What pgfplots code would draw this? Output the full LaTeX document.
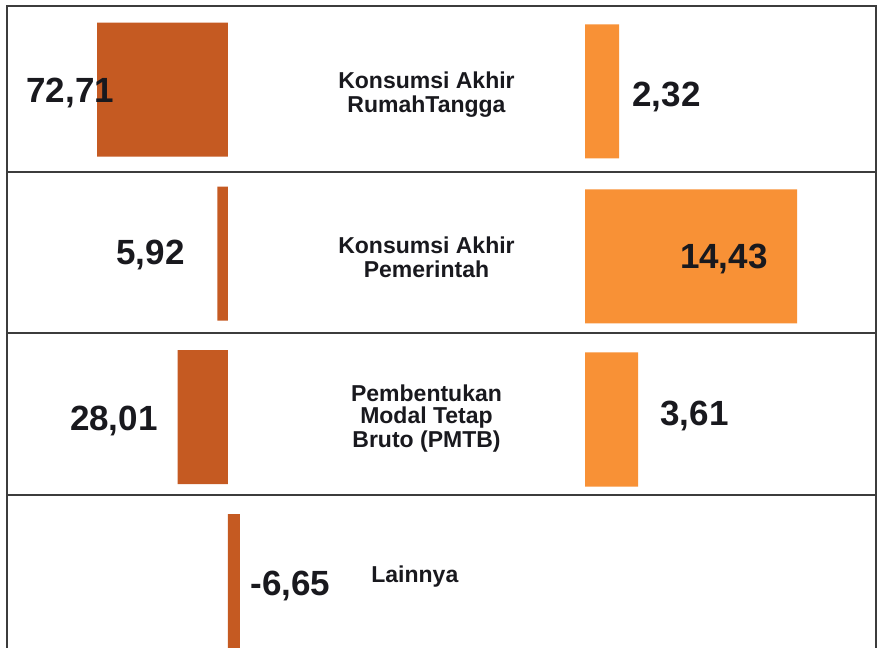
\documentclass[border=0pt]{standalone}
\usepackage{pgfplots}
\pgfplotsset{compat=1.18}
\usepackage{pgfplotstable}
\usepackage{fontspec}
\setmainfont{Liberation Sans}
\definecolor{darkbar}{RGB}{197,90,34}
\definecolor{lightbar}{RGB}{248,145,54}
\definecolor{framecol}{RGB}{60,60,60}
\definecolor{txt}{RGB}{25,25,30}

% left series (value, row position in px)
\pgfplotstableread{
val pos
72.71 89.5
5.92 253.5
28.01 417
-6.65 581
}\leftdata
% right series
\pgfplotstableread{
val pos
2.32 91.5
14.43 256.5
3.61 419.5
}\rightdata

\tikzset{
  val/.style={font=\bfseries\fontsize{17.5}{20}\selectfont, inner sep=0pt, text=txt},
  cat/.style={font=\bfseries\fontsize{11.5}{12}\selectfont, inner sep=0pt, text=txt, anchor=base},
}

\begin{document}
\begin{tikzpicture}
\fill[white,use as bounding box] (0,0) rectangle (440pt,324pt);
% left bars
\begin{axis}[at={(0pt,0pt)}, anchor=south west, scale only axis,
  width=440pt, height=324pt, hide axis,
  x dir=reverse, xmin=-362.22, xmax=126.67,
  y dir=reverse, ymin=0, ymax=648,
  xbar, bar width=134]
\addplot[draw=none, fill=darkbar] table[x=val,y=pos]{\leftdata};
\end{axis}
% right bars
\begin{axis}[at={(0pt,0pt)}, anchor=south west, scale only axis,
  width=440pt, height=324pt, hide axis,
  xmin=-39.796, xmax=20.068,
  y dir=reverse, ymin=0, ymax=648,
  xbar, bar width=134]
\addplot[draw=none, fill=lightbar] table[x=val,y=pos]{\rightdata};
\end{axis}
% frame and text
\begin{axis}[at={(3.5pt,-6pt)}, anchor=south west, scale only axis,
  width=434.5pt, height=327pt,
  xmin=7, xmax=876, ymin=6, ymax=660, y dir=reverse, clip=false,
  axis line style={framecol, line width=1pt},
  xtick=\empty, ytick={172,333,495}, yticklabels={},
  major tick length=0pt, ymajorgrids,
  grid style={framecol, line width=1pt}]
\node[val, anchor=base west] at (axis cs:26,102) {72,71};
\node[val, anchor=base west] at (axis cs:632,106) {2,32};
\node[val, anchor=base east] at (axis cs:185,264) {5,92};
\node[val, anchor=base east] at (axis cs:768,268) {14,43};
\node[val, anchor=base east] at (axis cs:158,430) {28,01};
\node[val, anchor=base west] at (axis cs:660,425) {3,61};
\node[val, anchor=base west] at (axis cs:250,595) {-6,65};
\node[cat] at (axis cs:426.5,89) {Konsumsi Akhir};
\node[cat] at (axis cs:426.5,112) {RumahTangga};
\node[cat] at (axis cs:426.5,253) {Konsumsi Akhir};
\node[cat] at (axis cs:426.5,277) {Pemerintah};
\node[cat] at (axis cs:426.5,401) {Pembentukan};
\node[cat] at (axis cs:426.5,423) {Modal Tetap};
\node[cat] at (axis cs:426.5,447) {Bruto (PMTB)};
\node[cat, anchor=base west] at (axis cs:371,582) {Lainnya};
\end{axis}
\end{tikzpicture}
\end{document}
